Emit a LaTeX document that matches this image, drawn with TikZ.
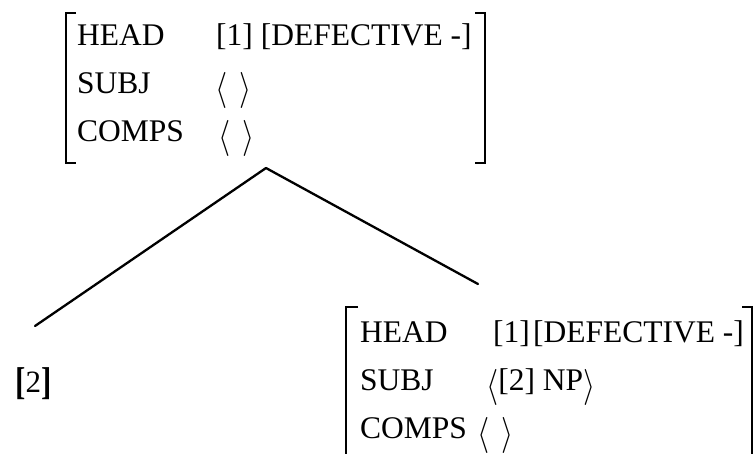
\documentclass[tikz,border=0pt]{standalone}
\usepackage{fontspec}
\setmainfont{Liberation Serif}
\usepackage{graphicx}
\usepackage{tikz}
\usetikzlibrary{positioning, calc}
\newcommand{\avmlang}{\raisebox{-.22em}{\scalebox{1.25}[1.45]{$\langle$}}}
\newcommand{\avmrang}{\raisebox{-.22em}{\scalebox{1.25}[1.45]{$\rangle$}}}
\newcommand{\tagbrack}[1]{\raisebox{-.08em}{\scalebox{1}[1.25]{\textbf{#1}}}}

\begin{document}
\begin{tikzpicture}[
    x=1pt, y=-1pt,
    feat/.style={anchor=base west, inner sep=0pt, font=\fontsize{31.5}{36}\selectfont},
    tag/.style={anchor=base west, inner sep=0pt, font=\fontsize{31}{38}\selectfont},
    bracket/.style={line width=1.3pt},
    branch/.style={line width=2.3pt, line cap=round}
]
\useasboundingbox (0,0) rectangle (755,453);

% Mother AVM
\node[feat] (headA) at (77,45) {HEAD};
\node[feat] (subjA) at (77,93) {SUBJ};
\node[feat] (compsA) at (77,141) {COMPS};
\node[feat] (headvalA) at (216,45) {[1] [DEFECTIVE -]};
\node[feat] (subjvalA) at (215,93) {\avmlang\hspace{.4em}\avmrang};
\node[feat] (compsvalA) at (218,141) {\avmlang\hspace{.4em}\avmrang};
\draw[bracket] (76,13) -| (66,163) -- (76,163);
\draw[bracket] (475,13) -| (485,163) -- (475,163);

% Head daughter AVM
\node[feat] (headB) at (360,342) {HEAD};
\node[feat] (subjB) at (360,390) {SUBJ};
\node[feat] (compsB) at (360,438) {COMPS};
\node[feat] (headvalB) at (493,342) {[1]\hspace{.1em}[DEFECTIVE -]};
\node[feat] (subjvalB) at (486,390) {\avmlang[2] NP\avmrang};
\node[feat] (compsvalB) at (477,438) {\avmlang\hspace{.4em}\avmrang};
\draw[bracket] (358,307) -| (346,462);
\draw[bracket] (742,307) -| (752,462);

% Subject daughter
\node[tag] (subjtag) at (15,392) {\tagbrack{[}2\tagbrack{]}};

% Branches
\coordinate (apex) at (266,168);
\coordinate (leafL) at (35,326);
\coordinate (leafR) at (478,284);
\draw[branch] (apex) -- (leafL);
\draw[branch] (apex) -- (leafR);

\end{tikzpicture}
\end{document}
